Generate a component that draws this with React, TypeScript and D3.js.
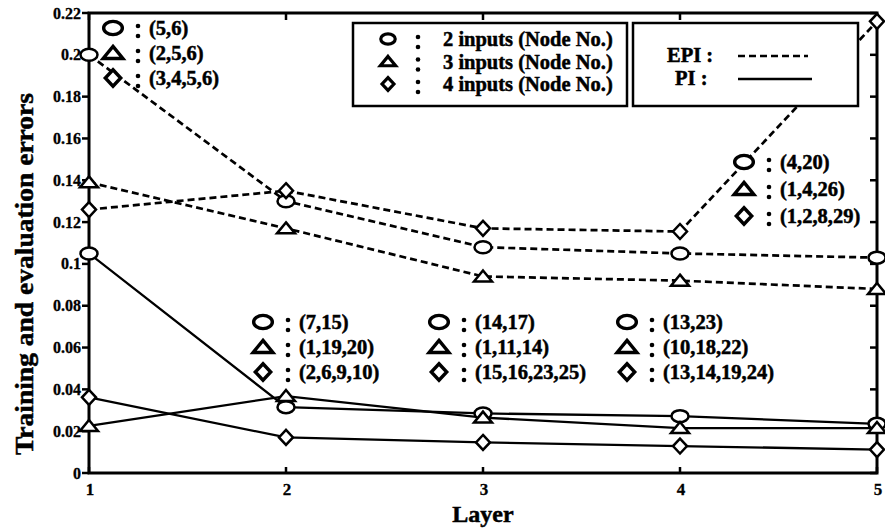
import React from 'react';
import * as d3 from 'd3';

// layers on the x axis
const layers = [1, 2, 3, 4, 5];

// EPI (dashed) errors per layer
const epiTwo = [0.2, 0.13, 0.108, 0.105, 0.103];
const epiThree = [0.139, 0.117, 0.094, 0.092, 0.088];
const epiFour = [0.126, 0.135, 0.117, 0.1155, 0.216];

// PI (solid) errors per layer
const piTwo = [0.105, 0.0315, 0.0285, 0.0272, 0.0235];
const piThree = [0.0225, 0.0368, 0.0265, 0.0215, 0.0215];
const piFour = [0.0362, 0.017, 0.0146, 0.0129, 0.0112];

const yTicks = [0, 0.02, 0.04, 0.06, 0.08, 0.1, 0.12, 0.14, 0.16, 0.18, 0.2, 0.22];

// node numbers written next to the markers
const firstLayerNodes = ['(5,6)', '(2,5,6)', '(3,4,5,6)'];
const lastLayerNodes = ['(4,20)', '(1,4,26)', '(1,2,8,29)'];
const layer2Nodes = ['(7,15)', '(1,19,20)', '(2,6,9,10)'];
const layer3Nodes = ['(14,17)', '(1,11,14)', '(15,16,23,25)'];
const layer4Nodes = ['(13,23)', '(10,18,22)', '(13,14,19,24)'];

const inputsLegend = ['2 inputs (Node No.)', '3 inputs (Node No.)', '4 inputs (Node No.)'];

type Shape = 'circle' | 'triangle' | 'diamond';
const shapes: Shape[] = ['circle', 'triangle', 'diamond'];

const FONT = '"Liberation Serif", "Times New Roman", serif';
// heavier look, like the scanned bold type
const txt = { fontWeight: 'bold' as const, fontFamily: FONT, stroke: 'black', strokeWidth: 0.5 };

const Marker = ({ shape, x, y, s = 1, sw = 2.5 }: { shape: Shape; x: number; y: number; s?: number; sw?: number }) => {
  if (shape === 'circle')
    return <ellipse cx={x} cy={y} rx={8.5 * s} ry={6 * s} fill="white" stroke="black" strokeWidth={sw} />;
  if (shape === 'triangle') {
    const p = [[x, y - 6 * s], [x + 9 * s, y + 5 * s], [x - 9 * s, y + 5 * s]];
    return <polygon points={p.map(d => d.join(',')).join(' ')} fill="white" stroke="black" strokeWidth={sw} />;
  }
  const p = [[x, y - 7.5 * s], [x + 7 * s, y], [x, y + 7.5 * s], [x - 7 * s, y]];
  return <polygon points={p.map(d => d.join(',')).join(' ')} fill="white" stroke="black" strokeWidth={sw} />;
};

const Colon = ({ x, y }: { x: number; y: number }) => (
  <g fill="black">
    <circle cx={x} cy={y - 2} r={2.3} />
    <circle cx={x} cy={y + 8} r={2.3} />
  </g>
);

// a column of marker : (nodes)
const NodeNote = ({ x, y, labels, gap = 25, s = 1.1 }: { x: number; y: number; labels: string[]; gap?: number; s?: number }) => (
  <g>
    {labels.map((t, i) => (
      <g key={t}>
        <Marker shape={shapes[i]} x={x} y={y + i * gap} s={s} sw={3.4} />
        <Colon x={x + 25} y={y + i * gap} />
        <text x={x + 36} y={y + i * gap + 7} fontSize={20.5} {...txt}>{t}</text>
      </g>
    ))}
  </g>
);

const App = () => {
  const width = 885;
  const height = 529;
  const x = d3.scaleLinear().domain([1, 5]).range([89, 877]);
  const y = d3.scaleLinear().domain([0, 0.22]).range([473, 13]);

  const line = d3.line<number>().x((_, i) => x(layers[i])).y(d => y(d));

  const epi = [epiTwo, epiThree, epiFour];
  const pi = [piTwo, piThree, piFour];

  return (
    <svg width={width} height={height} style={{ position: 'absolute', left: 0, top: 0, background: 'white' }}>
      {/* frame */}
      <rect x={x(1)} y={y(0.22)} width={x(5) - x(1)} height={y(0) - y(0.22)} fill="none" stroke="black" strokeWidth={3} />
      {yTicks.map(t => (
        <g key={t}>
          <line x1={x(1) - 7} x2={x(1)} y1={y(t)} y2={y(t)} stroke="black" strokeWidth={2.5} />
          <line x1={x(5) - 7} x2={x(5)} y1={y(t)} y2={y(t)} stroke="black" strokeWidth={2.5} />
          <text x={x(1) - 8} y={y(t) + 5.5} textAnchor="end" fontSize={16} {...txt} strokeWidth={0.3}>
            {d3.format('')(+t.toFixed(2))}
          </text>
        </g>
      ))}
      {layers.map(l => (
        <g key={l}>
          <line x1={x(l)} x2={x(l)} y1={y(0)} y2={y(0) - 6} stroke="black" strokeWidth={2.5} />
          <line x1={x(l)} x2={x(l)} y1={y(0.22)} y2={y(0.22) + 7} stroke="black" strokeWidth={2.5} />
          <text x={x(l) + 1} y={y(0) + 22} textAnchor="middle" fontSize={17} {...txt} strokeWidth={0.3}>{l}</text>
        </g>
      ))}

      {/* axis titles */}
      <text x={483} y={522} textAnchor="middle" fontSize={24} {...txt}>Layer</text>
      <text transform="translate(33,274) rotate(-90)" textAnchor="middle" fontSize={26}
        textLength={362} lengthAdjust="spacingAndGlyphs" {...txt}>
        Training and evaluation errors
      </text>

      {/* series */}
      {epi.map((s, i) => (
        <path key={'e' + i} d={line(s) || ''} fill="none" stroke="black" strokeWidth={2.7} strokeDasharray="7,4" />
      ))}
      {pi.map((s, i) => (
        <path key={'p' + i} d={line(s) || ''} fill="none" stroke="black" strokeWidth={2.3} />
      ))}
      {[...epi, ...pi].map((s, i) =>
        s.map((v, j) => <Marker key={i + '-' + j} shape={shapes[i % 3]} x={x(layers[j])} y={y(v)} />)
      )}

      {/* legend boxes */}
      <rect x={353} y={23} width={274} height={83} fill="white" stroke="black" strokeWidth={2.5} />
      {inputsLegend.map((t, i) => (
        <g key={t}>
          <Marker shape={shapes[i]} x={388} y={39 + i * 22.5} s={0.85} sw={3.2} />
          <Colon x={418} y={39 + i * 22.5} />
          <text x={443} y={46 + i * 22.5} fontSize={20.5} {...txt}>{t}</text>
        </g>
      ))}
      <rect x={633} y={23} width={225} height={83} fill="white" stroke="black" strokeWidth={2.5} />
      <text x={667} y={62} fontSize={20.5} {...txt}>EPI :</text>
      <text x={675} y={85} fontSize={20.5} {...txt}>PI :</text>
      <line x1={738} x2={808} y1={56} y2={56} stroke="black" strokeWidth={2.7} strokeDasharray="7,4" />
      <line x1={738} x2={812} y1={79} y2={79} stroke="black" strokeWidth={2.3} />

      {/* node number notes */}
      <NodeNote x={113} y={28} labels={firstLayerNodes} gap={25} />
      <NodeNote x={744} y={162} labels={lastLayerNodes} gap={27} />
      <NodeNote x={263} y={322} labels={layer2Nodes} />
      <NodeNote x={439} y={322} labels={layer3Nodes} />
      <NodeNote x={627} y={322} labels={layer4Nodes} />
    </svg>
  );
};

export default App;
